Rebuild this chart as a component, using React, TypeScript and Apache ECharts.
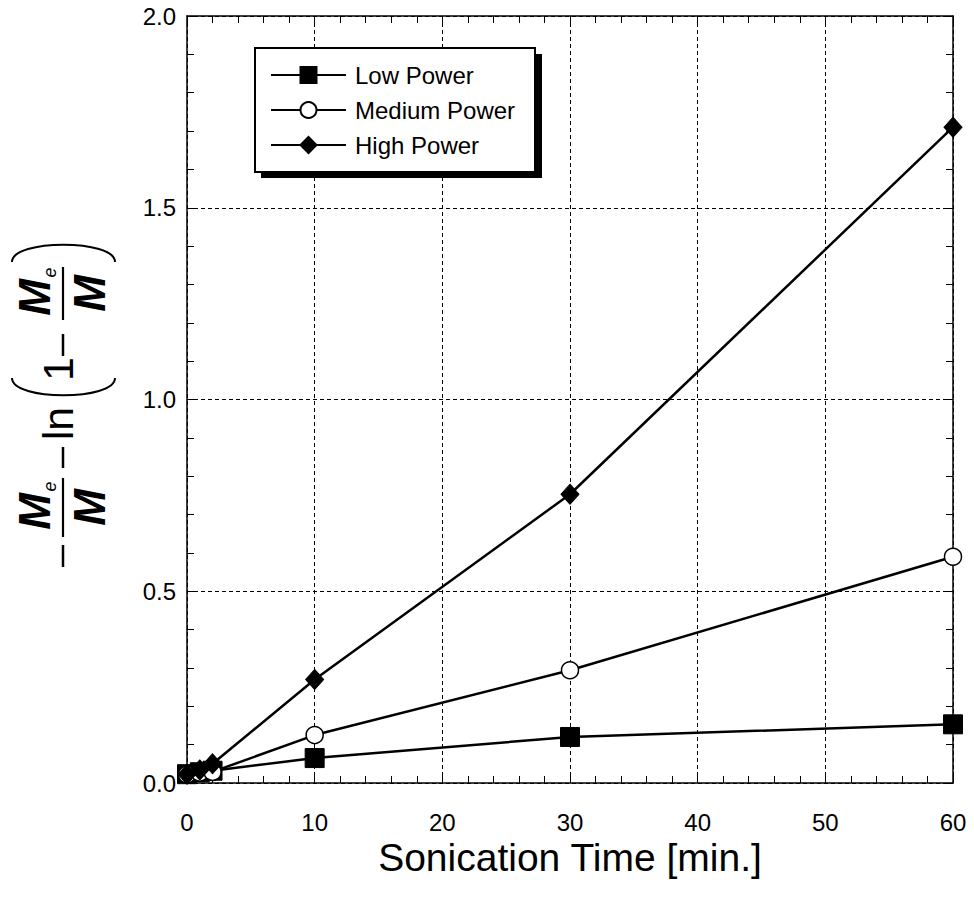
import React, { useEffect, useRef } from "react";
import * as echarts from "echarts";

const sonicationTime = [0, 1, 2, 10, 30, 60];
const lowPower = [0.023, 0.028, 0.032, 0.065, 0.12, 0.153];
const mediumPower = [0.022, 0.027, 0.029, 0.125, 0.294, 0.59];
const highPower = [0.023, 0.034, 0.05, 0.27, 0.753, 1.71];
const seriesNames = ["Low Power", "Medium Power", "High Power"];
const xTitle = "Sonication Time [min.]";

const FONT = 'Arial, "Liberation Sans", sans-serif';

function pairs(vals: number[]) {
  return sonicationTime.map((t, i) => [t, vals[i]]);
}

function minusRect(x0: number, x1: number) {
  return {
    type: "rect",
    shape: { x: x0, y: -1.25, width: x1 - x0, height: 2.5 },
    style: { fill: "#000" },
  };
}

function fraction(barX0: number, barX1: number) {
  const c = (barX0 + barX1) / 2;
  return [
    {
      type: "rect",
      shape: { x: barX0, y: -1.1, width: barX1 - barX0, height: 2.2 },
      style: { fill: "#000" },
    },
    {
      type: "text",
      x: c - 4,
      y: -29,
      style: {
        text: "M",
        font: `italic bold 44px ${FONT}`,
        fill: "#000",
        textAlign: "center",
        textVerticalAlign: "middle",
      },
    },
    {
      type: "text",
      x: c + 21,
      y: -13,
      style: {
        text: "e",
        font: `italic 18px ${FONT}`,
        fill: "#000",
        textAlign: "center",
        textVerticalAlign: "middle",
      },
    },
    {
      type: "text",
      x: c,
      y: 26,
      style: {
        text: "M",
        font: `italic bold 44px ${FONT}`,
        fill: "#000",
        textAlign: "center",
        textVerticalAlign: "middle",
      },
    },
  ];
}

export default function App() {
  const ref = useRef<HTMLDivElement>(null);
  useEffect(() => {
    if (!ref.current) return;
    const chart = echarts.init(ref.current, undefined, { renderer: "svg" });
    const axisCommon = {
      type: "value",
      axisLine: { show: true, onZero: false, lineStyle: { color: "#000", width: 1.5 } },
      axisTick: { show: true, inside: true, length: 10, lineStyle: { color: "#000", width: 1 } },
      minorTick: { show: true, splitNumber: 5, length: 7, lineStyle: { color: "#000", width: 1 } },
    };
    const seriesCommon = {
      type: "line",
      clip: false,
      lineStyle: { color: "#000", width: 2.5 },
      emphasis: { disabled: true },
      z: 3,
    };
    chart.setOption({
      animation: false,
      backgroundColor: "#fff",
      grid: { left: 187, right: 21, top: 16, bottom: 126, containLabel: false },
      xAxis: [
        {
          ...axisCommon,
          min: 0,
          max: 60,
          interval: 10,
          position: "bottom",
          axisLabel: { color: "#000", fontSize: 24, fontFamily: FONT, margin: 27 },
          splitLine: { show: true, lineStyle: { color: "#000", width: 1, type: [4, 3] } },
        },
        {
          ...axisCommon,
          min: 0,
          max: 60,
          interval: 10,
          position: "top",
          axisLabel: { show: false },
          splitLine: { show: false },
        },
      ],
      yAxis: [
        {
          ...axisCommon,
          min: 0,
          max: 2,
          interval: 0.5,
          position: "left",
          axisLabel: {
            color: "#000",
            fontSize: 24,
            fontFamily: FONT,
            margin: 11,
            formatter: (v: number) => v.toFixed(1),
          },
          splitLine: { show: true, lineStyle: { color: "#000", width: 1, type: [4, 3] } },
        },
        {
          ...axisCommon,
          min: 0,
          max: 2,
          interval: 0.5,
          position: "right",
          axisLabel: { show: false },
          splitLine: { show: false },
        },
      ],
      legend: {
        left: 255,
        top: 48,
        orient: "vertical",
        padding: [15, 10, 16, 15],
        itemWidth: 75,
        itemHeight: 20,
        itemGap: 11,
        selectedMode: false,
        data: seriesNames,
        textStyle: { color: "#000", fontSize: 24, fontFamily: FONT, padding: [0, 0, 0, 4] },
        z: 10,
      },
      series: [
        {
          ...seriesCommon,
          name: seriesNames[0],
          data: pairs(lowPower),
          symbol: "rect",
          symbolSize: 19,
          itemStyle: { color: "#000", borderColor: "#000", borderWidth: 1 },
        },
        {
          ...seriesCommon,
          name: seriesNames[1],
          data: pairs(mediumPower),
          symbol: "circle",
          symbolSize: 17,
          itemStyle: { color: "#fff", borderColor: "#000", borderWidth: 1.5 },
        },
        {
          ...seriesCommon,
          name: seriesNames[2],
          data: pairs(highPower),
          symbol: "diamond",
          symbolSize: [18, 20],
          itemStyle: { color: "#000", borderColor: "#000", borderWidth: 1 },
        },
      ],
      graphic: [
        {
          type: "rect",
          z: 5,
          shape: { x: 261, y: 54, width: 281, height: 124 },
          style: { fill: "#000" },
        },
        {
          type: "rect",
          z: 6,
          shape: { x: 255, y: 48, width: 280, height: 124 },
          style: { fill: "#fff", stroke: "#000", lineWidth: 2 },
        },
        {
          type: "text",
          x: 570,
          y: 857,
          style: {
            text: xTitle,
            font: `39px ${FONT}`,
            fill: "#000",
            textAlign: "center",
            textVerticalAlign: "middle",
          },
        },
        {
          type: "group",
          x: 63,
          y: 570,
          rotation: Math.PI / 2,
          children: [
            minusRect(3, 25),
            ...fraction(33, 92),
            minusRect(102, 123),
            {
              type: "text",
              x: 146.5,
              y: -5,
              style: {
                text: "ln",
                font: `43px ${FONT}`,
                fill: "#000",
                textAlign: "center",
                textVerticalAlign: "middle",
              },
            },
            {
              type: "bezierCurve",
              shape: { x1: 192, y1: -51, cpx1: 169, cpy1: -51, cpx2: 169, cpy2: 52, x2: 192, y2: 52 },
              style: { stroke: "#000", lineWidth: 2, fill: null },
            },
            {
              type: "text",
              x: 201,
              y: -5,
              style: {
                text: "1",
                font: `43px ${FONT}`,
                fill: "#000",
                textAlign: "center",
                textVerticalAlign: "middle",
              },
            },
            minusRect(214, 236),
            ...fraction(250, 303),
            {
              type: "bezierCurve",
              shape: { x1: 308, y1: -51, cpx1: 331, cpy1: -51, cpx2: 331, cpy2: 52, x2: 308, y2: 52 },
              style: { stroke: "#000", lineWidth: 2, fill: null },
            },
          ],
        },
      ],
    });
    return () => chart.dispose();
  }, []);
  return (
    <div
      ref={ref}
      style={{ position: "fixed", left: 0, top: 0, width: 974, height: 909, background: "#fff" }}
    />
  );
}
